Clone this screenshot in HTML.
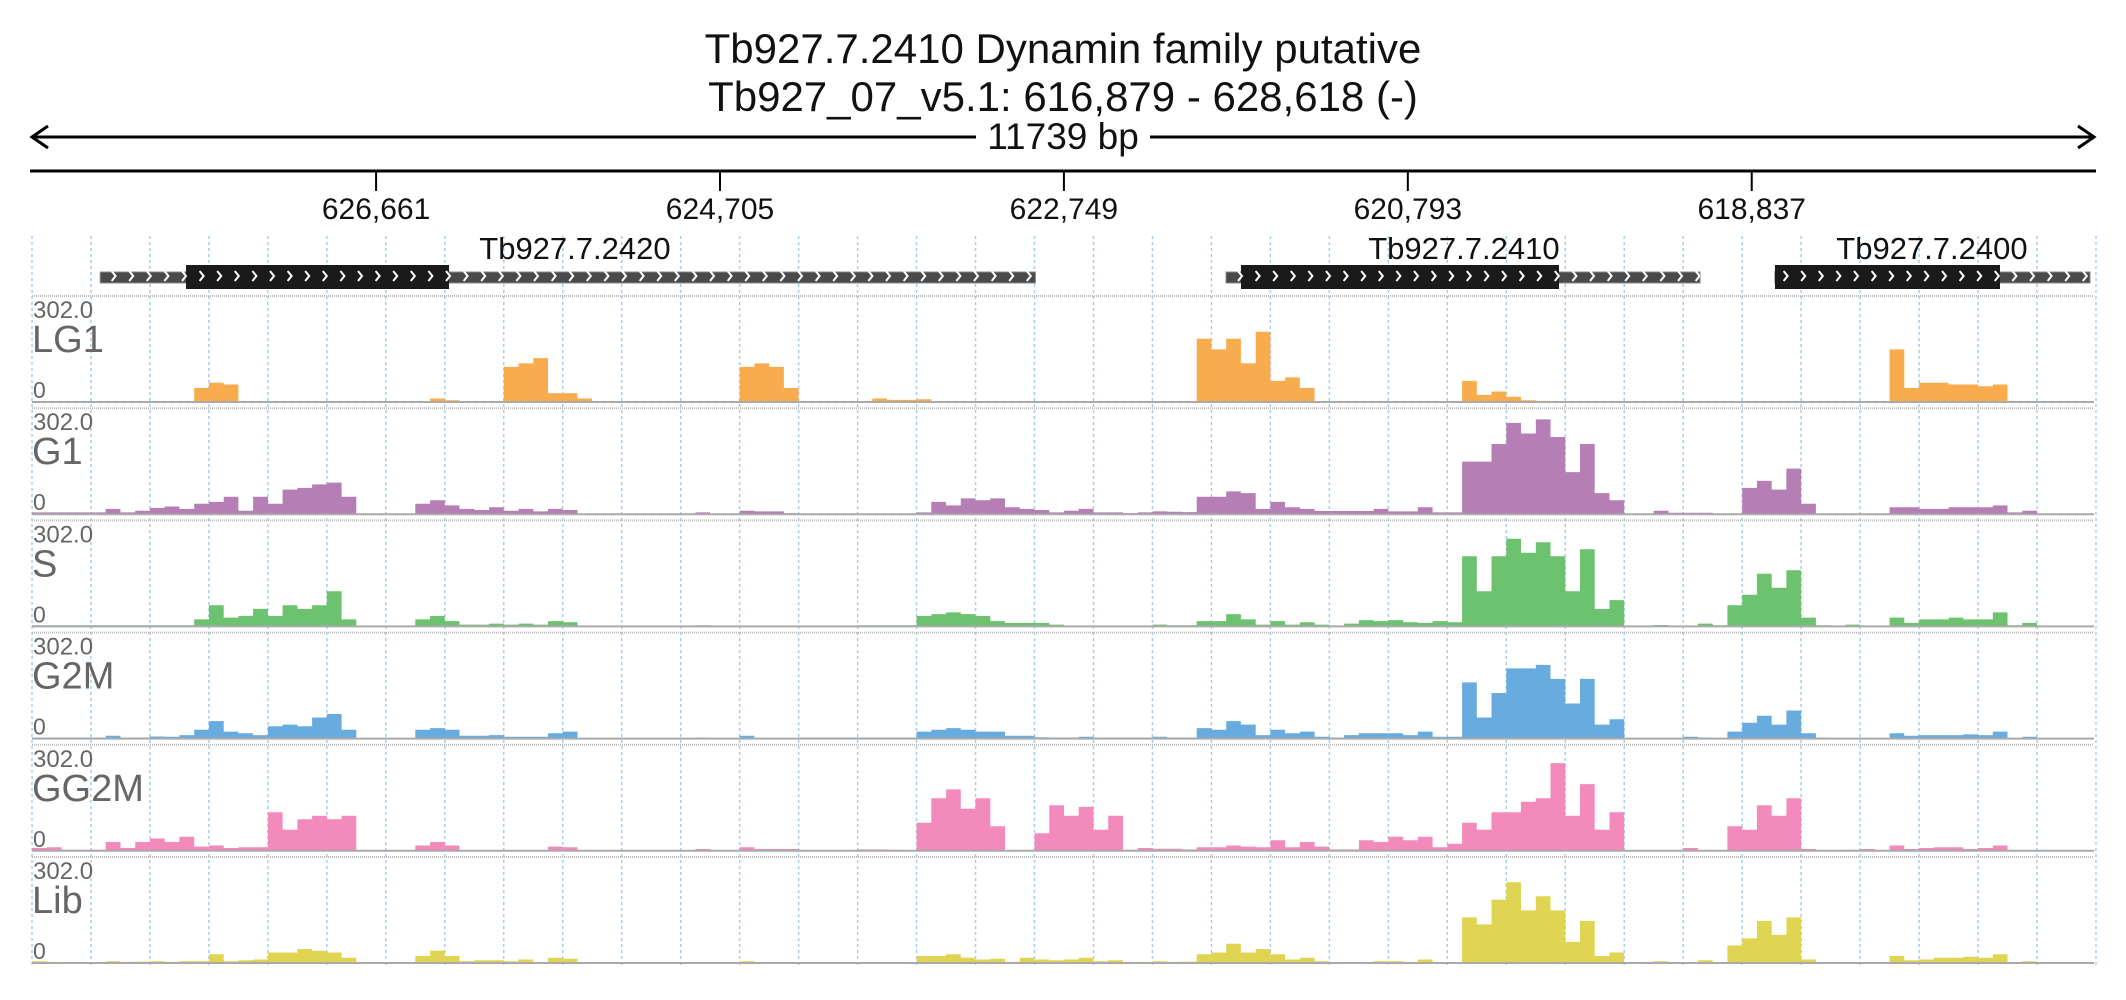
<!DOCTYPE html>
<html><head><meta charset="utf-8"><style>
html,body{margin:0;padding:0;background:#fff;}
svg{display:block;font-family:"Liberation Sans",sans-serif;}
</style></head><body>
<svg id="chart" width="2126" height="1000" viewBox="0 0 2126 1000" xmlns="http://www.w3.org/2000/svg">
<defs>
<pattern id="chev" width="17.6" height="24" patternUnits="userSpaceOnUse">
<path d="M6 7 L10 12 L6 17" stroke="#fff" stroke-width="2" fill="none"/>
</pattern>
</defs>
<text x="1063" y="63" text-anchor="middle" font-size="42" fill="#111">Tb927.7.2410  Dynamin family  putative</text>
<text x="1063" y="111" text-anchor="middle" font-size="42" fill="#111">Tb927_07_v5.1: 616,879 - 628,618 (-)</text>
<g>
<line x1="32" y1="137" x2="2094" y2="137" stroke="#000" stroke-width="3"/>
<path d="M48 126 L32 137 L48 148" stroke="#000" stroke-width="3" fill="none"/>
<path d="M2078 126 L2094 137 L2078 148" stroke="#000" stroke-width="3" fill="none"/>
<rect x="976" y="118" width="174" height="38" fill="#fff"/>
<text x="1063" y="149" text-anchor="middle" font-size="37" fill="#111">11739 bp</text>
</g>
<line x1="30" y1="171" x2="2096" y2="171" stroke="#000" stroke-width="3"/>
<g id="ticks"></g>
<g id="grid"></g>
<g id="genes"></g>
<g id="tracks"></g>
</svg>
<script>
const regionStart = 616879;
const regionEnd = 628618;
const tickValues = [626661, 624705, 622749, 620793, 618837];
const tickLabels = ["626,661", "624,705", "622,749", "620,793", "618,837"];
const geneNames = ["Tb927.7.2420", "Tb927.7.2410", "Tb927.7.2400"];
const geneStarts = [628230, 621827, 618705];
const geneEnds = [622911, 619131, 616913];
const cdsStarts = [627742, 621742, 618705];
const cdsEnds = [626246, 619933, 617425];
const geneLabelPos = [625530, 620474, 617812];
const trackNames = ["LG1", "G1", "S", "G2M", "GG2M", "Lib"];
const trackColors = ["#f9ac4d", "#b57fb6", "#6cc26f", "#68acdf", "#f28bbb", "#e0d553"];
const yMax = 302;
const binCount = 140;

const lg1Values = [0,0,0,0,0,0,0,0,0,0,0,40,55,50,0,0,0,0,0,0,0,0,0,0,0,0,0,10,5,0,0,0,100,110,125,25,25,10,0,0,0,0,0,0,0,0,0,0,100,110,100,40,0,0,0,0,0,10,6,6,8,0,0,0,0,0,0,0,0,0,0,0,0,0,0,0,0,0,0,180,150,180,110,200,60,70,40,0,0,0,0,0,0,0,0,0,0,60,20,30,15,5,3,0,0,0,0,2,2,0,0,0,0,0,0,0,0,0,0,0,0,0,0,0,0,0,150,40,55,55,50,50,45,50,0,0,0,0,0];
const g1Values = [5,5,5,5,5,15,5,10,18,22,15,30,35,50,10,50,30,70,75,85,90,50,0,0,0,0,30,40,25,15,12,20,10,15,8,15,12,2,1,1,1,1,1,1,1,5,0,0,10,8,8,3,1,1,1,1,1,1,1,1,5,35,25,45,40,45,20,15,12,5,10,15,5,5,3,5,8,7,6,50,50,65,60,15,35,20,15,9,9,9,9,15,8,8,20,5,5,150,150,200,260,230,270,220,120,200,60,40,0,0,10,4,4,4,2,0,75,95,70,130,30,0,0,0,0,0,20,20,15,15,20,20,20,25,5,10,0,0,0,0];
const sValues = [3,3,3,3,3,3,3,3,3,3,3,20,60,25,30,50,30,60,50,60,100,20,0,0,0,0,20,30,15,5,5,8,5,8,5,15,12,1,1,1,1,1,1,1,1,3,0,0,2,2,2,2,0,0,0,0,3,3,3,3,30,35,40,35,30,15,10,10,10,5,2,2,2,2,2,2,5,3,3,15,15,35,20,5,15,5,12,5,2,8,18,15,18,12,10,15,12,200,100,200,250,210,240,200,100,220,50,75,0,0,4,2,2,8,3,60,90,150,110,160,25,3,2,5,0,0,25,10,20,20,25,20,20,40,3,10,0,0,0,0];
const g2mValues = [3,3,3,3,3,8,3,3,6,5,10,25,50,20,15,10,35,40,35,60,70,25,0,0,0,0,25,30,25,8,8,10,5,5,5,15,20,1,1,1,1,1,1,1,1,3,0,0,8,2,2,2,3,3,3,3,3,3,3,3,20,25,30,25,20,20,8,8,4,3,3,5,3,3,3,3,5,3,3,30,25,50,40,10,25,15,20,5,3,10,15,15,15,10,20,5,5,160,60,130,200,200,210,170,100,170,40,55,0,0,0,0,5,3,0,20,45,65,40,80,15,3,1,1,1,1,15,8,10,10,10,12,10,20,2,5,0,0,0,0];
const gg2mValues = [8,10,3,3,3,25,8,25,35,25,40,12,15,8,10,10,110,60,90,100,90,100,0,0,0,0,15,25,15,2,2,2,2,2,2,12,10,1,1,1,1,1,1,1,1,5,0,0,10,5,5,5,0,0,0,0,4,4,3,0,80,150,175,120,150,70,0,0,50,130,100,125,60,100,3,8,6,6,4,10,10,15,12,10,30,10,25,12,4,4,30,25,40,30,40,10,20,80,60,110,110,140,150,250,100,190,60,110,0,0,0,0,8,0,0,70,60,130,100,150,5,0,0,3,5,0,15,5,8,10,10,5,8,15,1,1,1,1,1,1];
const libValues = [5,3,2,2,2,5,3,4,5,3,5,5,25,5,8,10,30,30,40,35,30,15,0,0,0,0,20,35,20,5,8,8,5,10,0,15,12,1,1,1,1,1,1,1,1,1,1,1,5,2,2,2,2,2,2,2,2,2,2,2,20,20,25,15,10,12,3,15,10,8,10,15,5,8,2,3,5,3,4,25,30,55,30,40,25,10,15,5,2,2,2,5,5,3,10,2,2,130,110,180,230,150,190,150,60,120,20,30,0,3,5,2,2,8,0,50,70,120,80,130,10,1,1,1,1,1,20,8,10,15,15,18,15,25,2,5,0,0,0,0];
const trackValues = [lg1Values, g1Values, sValues, g2mValues, gg2mValues, libValues];

const NS = "http://www.w3.org/2000/svg";
const plotLeft = 32, plotRight = 2096;
function xScale(bp){ return plotLeft + (regionEnd - bp) / (regionEnd - regionStart) * (plotRight - plotLeft); }
const trackTop0 = 296, trackPitch = 112.2, trackH = 106;
function trackTop(i){ return trackTop0 + i * trackPitch; }
function yScale(i, v){ return trackTop(i) + trackH - v / yMax * trackH; }
function mk(tag, attrs, parent){ const e = document.createElementNS(NS, tag); for (const k in attrs) e.setAttribute(k, attrs[k]); parent.appendChild(e); return e; }

const ticksG = document.getElementById('ticks');
tickValues.forEach((t, i) => {
  const x = xScale(t);
  const l = mk('line', {x1:x, y1:171, x2:x, y2:191, stroke:'#000', 'stroke-width':2}, ticksG);
  
  
  const tx = mk('text', {x:x, y:219, 'text-anchor':'middle', 'font-size':30, fill:'#111'}, ticksG);
  tx.textContent = tickLabels[i];
  
  
});

const gridG = document.getElementById('grid');
for (let k = 0; k <= 35; k++) {
  const x = plotLeft + k * (plotRight - plotLeft) / 35;
  const l = mk('line', {x1:x, y1:236, x2:x, y2:965, stroke:'#a5cdee', 'stroke-width':1.5, 'stroke-dasharray':'3 3'}, gridG);
  
  
}

const genesG = document.getElementById('genes');
geneNames.forEach((g, i) => {
  const x1 = xScale(geneStarts[i]), x2 = xScale(geneEnds[i]);
  const c1 = xScale(cdsStarts[i]), c2 = xScale(cdsEnds[i]);
  const grp = mk('g', {}, genesG);
  
  
  mk('rect', {x:x1, y:272, width:x2-x1, height:11, fill:'#4a4a4a', stroke:'#888', 'stroke-width':1}, grp);
  mk('rect', {x:c1, y:265, width:c2-c1, height:24, fill:'#1a1a1a'}, grp);
  mk('rect', {x:x1, y:266, width:x2-x1, height:22, fill:'url(#chev)'}, grp);
  const tx = mk('text', {x:xScale(geneLabelPos[i]), y:259, 'text-anchor':'middle', 'font-size':31, fill:'#111'}, grp);
  tx.textContent = g;
  
  
});

const tracksG = document.getElementById('tracks');
const bpPerBin = (regionEnd - regionStart) / binCount;
trackNames.forEach((name, i) => {
  const grp = mk('g', {}, tracksG);
  
  
  const top = trackTop(i), base = top + trackH;
  mk('line', {x1:plotLeft, y1:top, x2:plotRight-2, y2:top, stroke:'#bbb', 'stroke-width':2, 'stroke-dasharray':'1 1'}, grp);
  const vals = trackValues[i];
  let d = '';
  vals.forEach((v, b) => {
    if (v <= 0) return;
    const xa = xScale(regionEnd - b * bpPerBin), xb = xScale(regionEnd - (b + 1) * bpPerBin);
    const y = yScale(i, v);
    d += `M${xa.toFixed(1)} ${base}V${y.toFixed(1)}H${xb.toFixed(1)}V${base}Z`;
  });
  const p = mk('path', {d:d, fill:trackColors[i]}, grp);
  
  
  mk('line', {x1:plotLeft, y1:base, x2:plotRight-2, y2:base, stroke:'#aaa', 'stroke-width':2}, grp);
  const mx = mk('text', {x:33, y:top+22, 'font-size':24, fill:'#666'}, grp);
  mx.textContent = '302.0';
  
  
  const nm = mk('text', {x:32, y:top+56, 'font-size':38, fill:'#666'}, grp);
  nm.textContent = name;
  
  
  const z = mk('text', {x:33, y:base-4, 'font-size':23, fill:'#666'}, grp);
  z.textContent = '0';
  
  
});
</script>
</body></html>
